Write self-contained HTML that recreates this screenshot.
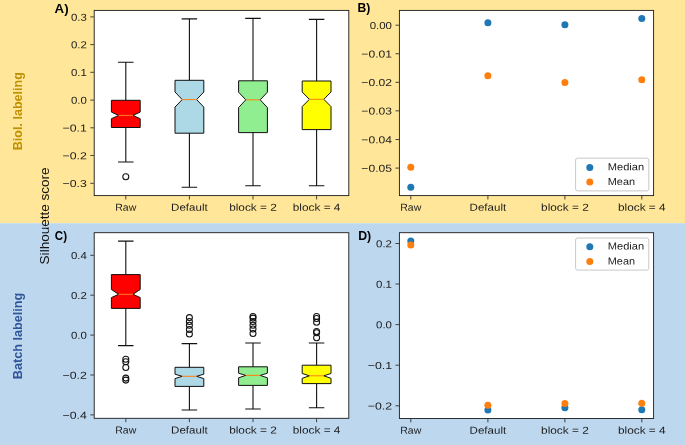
<!DOCTYPE html>
<html lang="en">
<head>
<meta charset="utf-8">
<title>Silhouette score</title>
<style>
html,body{margin:0;padding:0;background:#fff;}
body{width:685px;height:445px;overflow:hidden;font-family:"Liberation Sans",sans-serif;}
svg{display:block;will-change:transform;font-family:"Liberation Sans",sans-serif;}
</style>
</head>
<body>
<svg width="685" height="445" viewBox="0 0 685 445">
<rect x="0" y="0" width="685" height="223.2" fill="#FFE699"/>
<rect x="0" y="223.2" width="685" height="221.8" fill="#BDD7EE"/>
<rect x="94.20" y="10.40" width="254.60" height="185.20" fill="#fff" stroke="#1a1a1a" stroke-width="0.9"/>
<line x1="90.30" y1="16.90" x2="93.80" y2="16.90" stroke="#1a1a1a" stroke-width="0.8"/>
<text x="70.90" y="20.65" transform="rotate(0.04 78.8 20.6)" font-size="10.10" fill="#1c1c1c" textLength="15.90" lengthAdjust="spacingAndGlyphs">0.3</text>
<line x1="90.30" y1="44.60" x2="93.80" y2="44.60" stroke="#1a1a1a" stroke-width="0.8"/>
<text x="70.90" y="48.35" transform="rotate(0.04 78.8 48.4)" font-size="10.10" fill="#1c1c1c" textLength="15.90" lengthAdjust="spacingAndGlyphs">0.2</text>
<line x1="90.30" y1="72.30" x2="93.80" y2="72.30" stroke="#1a1a1a" stroke-width="0.8"/>
<text x="70.90" y="76.05" transform="rotate(0.04 78.8 76.0)" font-size="10.10" fill="#1c1c1c" textLength="15.90" lengthAdjust="spacingAndGlyphs">0.1</text>
<line x1="90.30" y1="100.10" x2="93.80" y2="100.10" stroke="#1a1a1a" stroke-width="0.8"/>
<text x="70.90" y="103.85" transform="rotate(0.04 78.8 103.8)" font-size="10.10" fill="#1c1c1c" textLength="15.90" lengthAdjust="spacingAndGlyphs">0.0</text>
<line x1="90.30" y1="127.80" x2="93.80" y2="127.80" stroke="#1a1a1a" stroke-width="0.8"/>
<text x="62.52" y="131.55" transform="rotate(0.04 74.7 131.6)" font-size="10.10" fill="#1c1c1c" textLength="24.28" lengthAdjust="spacingAndGlyphs">−0.1</text>
<line x1="90.30" y1="155.50" x2="93.80" y2="155.50" stroke="#1a1a1a" stroke-width="0.8"/>
<text x="62.52" y="159.25" transform="rotate(0.04 74.7 159.2)" font-size="10.10" fill="#1c1c1c" textLength="24.28" lengthAdjust="spacingAndGlyphs">−0.2</text>
<line x1="90.30" y1="183.30" x2="93.80" y2="183.30" stroke="#1a1a1a" stroke-width="0.8"/>
<text x="62.52" y="187.05" transform="rotate(0.04 74.7 187.1)" font-size="10.10" fill="#1c1c1c" textLength="24.28" lengthAdjust="spacingAndGlyphs">−0.3</text>
<line x1="125.80" y1="196.00" x2="125.80" y2="199.50" stroke="#1a1a1a" stroke-width="0.8"/>
<text x="115.28" y="210.80" transform="rotate(0.04 125.8 210.8)" font-size="10.10" fill="#1c1c1c" textLength="21.04" lengthAdjust="spacingAndGlyphs">Raw</text>
<line x1="189.40" y1="196.00" x2="189.40" y2="199.50" stroke="#1a1a1a" stroke-width="0.8"/>
<text x="171.13" y="210.80" transform="rotate(0.04 189.4 210.8)" font-size="10.10" fill="#1c1c1c" textLength="36.54" lengthAdjust="spacingAndGlyphs">Default</text>
<line x1="253.00" y1="196.00" x2="253.00" y2="199.50" stroke="#1a1a1a" stroke-width="0.8"/>
<text x="229.18" y="210.80" transform="rotate(0.04 253.0 210.8)" font-size="10.10" fill="#1c1c1c" textLength="47.63" lengthAdjust="spacingAndGlyphs">block = 2</text>
<line x1="316.60" y1="196.00" x2="316.60" y2="199.50" stroke="#1a1a1a" stroke-width="0.8"/>
<text x="292.78" y="210.80" transform="rotate(0.04 316.6 210.8)" font-size="10.10" fill="#1c1c1c" textLength="47.63" lengthAdjust="spacingAndGlyphs">block = 4</text>
<path d="M125.80 100.30V62.30M125.80 127.50V162.00M118.60 62.30H133.00M118.60 162.00H133.00" fill="none" stroke="#111" stroke-width="1.1" stroke-linecap="square"/>
<path d="M111.40 127.50L140.20 127.50L140.20 118.70L133.00 115.40L140.20 112.10L140.20 100.30L111.40 100.30L111.40 112.10L118.60 115.40L111.40 118.70Z" fill="#FF0000" stroke="#111" stroke-width="1" stroke-linejoin="miter"/>
<line x1="118.60" y1="115.40" x2="133.00" y2="115.40" stroke="#FF7F0E" stroke-width="1"/>
<circle cx="125.80" cy="176.80" r="3.0" fill="none" stroke="#111" stroke-width="1.05"/>
<path d="M189.40 80.30V18.90M189.40 133.20V187.30M182.20 18.90H196.60M182.20 187.30H196.60" fill="none" stroke="#111" stroke-width="1.1" stroke-linecap="square"/>
<path d="M175.00 133.20L203.80 133.20L203.80 107.10L196.60 99.60L203.80 92.00L203.80 80.30L175.00 80.30L175.00 92.00L182.20 99.60L175.00 107.10Z" fill="#ADD8E6" stroke="#111" stroke-width="1" stroke-linejoin="miter"/>
<line x1="182.20" y1="99.60" x2="196.60" y2="99.60" stroke="#FF7F0E" stroke-width="1"/>
<path d="M253.00 80.80V18.40M253.00 132.60V185.80M245.80 18.40H260.20M245.80 185.80H260.20" fill="none" stroke="#111" stroke-width="1.1" stroke-linecap="square"/>
<path d="M238.60 132.60L267.40 132.60L267.40 107.60L260.20 99.80L267.40 92.20L267.40 80.80L238.60 80.80L238.60 92.20L245.80 99.80L238.60 107.60Z" fill="#90EE90" stroke="#111" stroke-width="1" stroke-linejoin="miter"/>
<line x1="245.80" y1="99.80" x2="260.20" y2="99.80" stroke="#FF7F0E" stroke-width="1"/>
<path d="M316.60 81.00V19.40M316.60 129.60V185.80M309.40 19.40H323.80M309.40 185.80H323.80" fill="none" stroke="#111" stroke-width="1.1" stroke-linecap="square"/>
<path d="M302.20 129.60L331.00 129.60L331.00 106.60L323.80 99.30L331.00 92.00L331.00 81.00L302.20 81.00L302.20 92.00L309.40 99.30L302.20 106.60Z" fill="#FFFF00" stroke="#111" stroke-width="1" stroke-linejoin="miter"/>
<line x1="309.40" y1="99.30" x2="323.80" y2="99.30" stroke="#FF7F0E" stroke-width="1"/>
<rect x="399.40" y="10.40" width="254.20" height="185.20" fill="#fff" stroke="#1a1a1a" stroke-width="0.9"/>
<line x1="395.50" y1="25.20" x2="399.00" y2="25.20" stroke="#1a1a1a" stroke-width="0.8"/>
<text x="369.73" y="28.95" transform="rotate(0.04 380.9 28.9)" font-size="10.10" fill="#1c1c1c" textLength="22.27" lengthAdjust="spacingAndGlyphs">0.00</text>
<line x1="395.50" y1="53.75" x2="399.00" y2="53.75" stroke="#1a1a1a" stroke-width="0.8"/>
<text x="361.36" y="57.50" transform="rotate(0.04 376.7 57.5)" font-size="10.10" fill="#1c1c1c" textLength="30.64" lengthAdjust="spacingAndGlyphs">−0.01</text>
<line x1="395.50" y1="82.30" x2="399.00" y2="82.30" stroke="#1a1a1a" stroke-width="0.8"/>
<text x="361.36" y="86.05" transform="rotate(0.04 376.7 86.0)" font-size="10.10" fill="#1c1c1c" textLength="30.64" lengthAdjust="spacingAndGlyphs">−0.02</text>
<line x1="395.50" y1="110.85" x2="399.00" y2="110.85" stroke="#1a1a1a" stroke-width="0.8"/>
<text x="361.36" y="114.60" transform="rotate(0.04 376.7 114.6)" font-size="10.10" fill="#1c1c1c" textLength="30.64" lengthAdjust="spacingAndGlyphs">−0.03</text>
<line x1="395.50" y1="139.50" x2="399.00" y2="139.50" stroke="#1a1a1a" stroke-width="0.8"/>
<text x="361.36" y="143.25" transform="rotate(0.04 376.7 143.2)" font-size="10.10" fill="#1c1c1c" textLength="30.64" lengthAdjust="spacingAndGlyphs">−0.04</text>
<line x1="395.50" y1="168.10" x2="399.00" y2="168.10" stroke="#1a1a1a" stroke-width="0.8"/>
<text x="361.36" y="171.85" transform="rotate(0.04 376.7 171.8)" font-size="10.10" fill="#1c1c1c" textLength="30.64" lengthAdjust="spacingAndGlyphs">−0.05</text>
<line x1="410.80" y1="196.00" x2="410.80" y2="199.50" stroke="#1a1a1a" stroke-width="0.8"/>
<text x="400.28" y="210.80" transform="rotate(0.04 410.8 210.8)" font-size="10.10" fill="#1c1c1c" textLength="21.04" lengthAdjust="spacingAndGlyphs">Raw</text>
<line x1="487.90" y1="196.00" x2="487.90" y2="199.50" stroke="#1a1a1a" stroke-width="0.8"/>
<text x="469.63" y="210.80" transform="rotate(0.04 487.9 210.8)" font-size="10.10" fill="#1c1c1c" textLength="36.54" lengthAdjust="spacingAndGlyphs">Default</text>
<line x1="564.90" y1="196.00" x2="564.90" y2="199.50" stroke="#1a1a1a" stroke-width="0.8"/>
<text x="541.08" y="210.80" transform="rotate(0.04 564.9 210.8)" font-size="10.10" fill="#1c1c1c" textLength="47.63" lengthAdjust="spacingAndGlyphs">block = 2</text>
<line x1="641.80" y1="196.00" x2="641.80" y2="199.50" stroke="#1a1a1a" stroke-width="0.8"/>
<text x="617.98" y="210.80" transform="rotate(0.04 641.8 210.8)" font-size="10.10" fill="#1c1c1c" textLength="47.63" lengthAdjust="spacingAndGlyphs">block = 4</text>
<circle cx="410.80" cy="187.30" r="3.5" fill="#1F77B4"/>
<circle cx="410.80" cy="167.20" r="3.5" fill="#FF7F0E"/>
<circle cx="487.90" cy="22.70" r="3.5" fill="#1F77B4"/>
<circle cx="487.90" cy="75.80" r="3.5" fill="#FF7F0E"/>
<circle cx="564.90" cy="24.70" r="3.5" fill="#1F77B4"/>
<circle cx="564.90" cy="82.40" r="3.5" fill="#FF7F0E"/>
<circle cx="641.80" cy="18.60" r="3.5" fill="#1F77B4"/>
<circle cx="641.80" cy="79.80" r="3.5" fill="#FF7F0E"/>
<rect x="575.60" y="158.20" width="73.20" height="32.70" rx="2" ry="2" fill="#fff" fill-opacity="0.8" stroke="#c8c8c8" stroke-width="1"/>
<circle cx="589.80" cy="167.40" r="3.5" fill="#1F77B4"/>
<circle cx="589.80" cy="182.00" r="3.5" fill="#FF7F0E"/>
<text x="607.80" y="170.30" transform="rotate(0.04 626.0 170.3)" font-size="10.10" fill="#1c1c1c" textLength="36.37" lengthAdjust="spacingAndGlyphs">Median</text>
<text x="607.80" y="184.90" transform="rotate(0.04 621.4 184.9)" font-size="10.10" fill="#1c1c1c" textLength="27.25" lengthAdjust="spacingAndGlyphs">Mean</text>
<rect x="94.20" y="232.70" width="254.60" height="185.60" fill="#fff" stroke="#1a1a1a" stroke-width="0.9"/>
<line x1="90.30" y1="255.30" x2="93.80" y2="255.30" stroke="#1a1a1a" stroke-width="0.8"/>
<text x="70.90" y="259.05" transform="rotate(0.04 78.8 259.1)" font-size="10.10" fill="#1c1c1c" textLength="15.90" lengthAdjust="spacingAndGlyphs">0.4</text>
<line x1="90.30" y1="295.20" x2="93.80" y2="295.20" stroke="#1a1a1a" stroke-width="0.8"/>
<text x="70.90" y="298.95" transform="rotate(0.04 78.8 298.9)" font-size="10.10" fill="#1c1c1c" textLength="15.90" lengthAdjust="spacingAndGlyphs">0.2</text>
<line x1="90.30" y1="335.10" x2="93.80" y2="335.10" stroke="#1a1a1a" stroke-width="0.8"/>
<text x="70.90" y="338.85" transform="rotate(0.04 78.8 338.9)" font-size="10.10" fill="#1c1c1c" textLength="15.90" lengthAdjust="spacingAndGlyphs">0.0</text>
<line x1="90.30" y1="375.00" x2="93.80" y2="375.00" stroke="#1a1a1a" stroke-width="0.8"/>
<text x="62.52" y="378.75" transform="rotate(0.04 74.7 378.8)" font-size="10.10" fill="#1c1c1c" textLength="24.28" lengthAdjust="spacingAndGlyphs">−0.2</text>
<line x1="90.30" y1="414.90" x2="93.80" y2="414.90" stroke="#1a1a1a" stroke-width="0.8"/>
<text x="62.52" y="418.65" transform="rotate(0.04 74.7 418.6)" font-size="10.10" fill="#1c1c1c" textLength="24.28" lengthAdjust="spacingAndGlyphs">−0.4</text>
<line x1="125.80" y1="418.70" x2="125.80" y2="422.20" stroke="#1a1a1a" stroke-width="0.8"/>
<text x="115.28" y="433.50" transform="rotate(0.04 125.8 433.5)" font-size="10.10" fill="#1c1c1c" textLength="21.04" lengthAdjust="spacingAndGlyphs">Raw</text>
<line x1="189.40" y1="418.70" x2="189.40" y2="422.20" stroke="#1a1a1a" stroke-width="0.8"/>
<text x="171.13" y="433.50" transform="rotate(0.04 189.4 433.5)" font-size="10.10" fill="#1c1c1c" textLength="36.54" lengthAdjust="spacingAndGlyphs">Default</text>
<line x1="253.00" y1="418.70" x2="253.00" y2="422.20" stroke="#1a1a1a" stroke-width="0.8"/>
<text x="229.18" y="433.50" transform="rotate(0.04 253.0 433.5)" font-size="10.10" fill="#1c1c1c" textLength="47.63" lengthAdjust="spacingAndGlyphs">block = 2</text>
<line x1="316.60" y1="418.70" x2="316.60" y2="422.20" stroke="#1a1a1a" stroke-width="0.8"/>
<text x="292.78" y="433.50" transform="rotate(0.04 316.6 433.5)" font-size="10.10" fill="#1c1c1c" textLength="47.63" lengthAdjust="spacingAndGlyphs">block = 4</text>
<path d="M125.80 274.60V241.10M125.80 308.40V345.60M118.60 241.10H133.00M118.60 345.60H133.00" fill="none" stroke="#111" stroke-width="1.1" stroke-linecap="square"/>
<path d="M111.40 308.40L140.20 308.40L140.20 297.60L133.00 294.30L140.20 289.50L140.20 274.60L111.40 274.60L111.40 289.50L118.60 294.30L111.40 297.60Z" fill="#FF0000" stroke="#111" stroke-width="1" stroke-linejoin="miter"/>
<line x1="118.60" y1="294.30" x2="133.00" y2="294.30" stroke="#FF7F0E" stroke-width="1"/>
<circle cx="125.80" cy="359.20" r="3.0" fill="none" stroke="#111" stroke-width="1.05"/>
<circle cx="125.80" cy="361.70" r="3.0" fill="none" stroke="#111" stroke-width="1.05"/>
<circle cx="125.80" cy="367.50" r="3.0" fill="none" stroke="#111" stroke-width="1.05"/>
<circle cx="125.80" cy="378.10" r="3.0" fill="none" stroke="#111" stroke-width="1.05"/>
<circle cx="125.80" cy="380.10" r="3.0" fill="none" stroke="#111" stroke-width="1.05"/>
<path d="M189.40 367.30V343.60M189.40 386.40V410.00M182.20 343.60H196.60M182.20 410.00H196.60" fill="none" stroke="#111" stroke-width="1.1" stroke-linecap="square"/>
<path d="M175.00 386.40L203.80 386.40L203.80 378.60L196.60 376.30L203.80 374.20L203.80 367.30L175.00 367.30L175.00 374.20L182.20 376.30L175.00 378.60Z" fill="#ADD8E6" stroke="#111" stroke-width="1" stroke-linejoin="miter"/>
<line x1="182.20" y1="376.30" x2="196.60" y2="376.30" stroke="#FF7F0E" stroke-width="1"/>
<circle cx="189.40" cy="317.60" r="3.0" fill="none" stroke="#111" stroke-width="1.05"/>
<circle cx="189.40" cy="321.40" r="3.0" fill="none" stroke="#111" stroke-width="1.05"/>
<circle cx="189.40" cy="325.20" r="3.0" fill="none" stroke="#111" stroke-width="1.05"/>
<circle cx="189.40" cy="329.50" r="3.0" fill="none" stroke="#111" stroke-width="1.05"/>
<circle cx="189.40" cy="334.00" r="3.0" fill="none" stroke="#111" stroke-width="1.05"/>
<path d="M253.00 366.80V343.00M253.00 385.40V409.00M245.80 343.00H260.20M245.80 409.00H260.20" fill="none" stroke="#111" stroke-width="1.1" stroke-linecap="square"/>
<path d="M238.60 385.40L267.40 385.40L267.40 377.80L260.20 375.40L267.40 373.20L267.40 366.80L238.60 366.80L238.60 373.20L245.80 375.40L238.60 377.80Z" fill="#90EE90" stroke="#111" stroke-width="1" stroke-linejoin="miter"/>
<line x1="245.80" y1="375.40" x2="260.20" y2="375.40" stroke="#FF7F0E" stroke-width="1"/>
<circle cx="253.00" cy="316.40" r="3.0" fill="none" stroke="#111" stroke-width="1.05"/>
<circle cx="253.00" cy="318.10" r="3.0" fill="none" stroke="#111" stroke-width="1.05"/>
<circle cx="253.00" cy="321.40" r="3.0" fill="none" stroke="#111" stroke-width="1.05"/>
<circle cx="253.00" cy="325.20" r="3.0" fill="none" stroke="#111" stroke-width="1.05"/>
<circle cx="253.00" cy="329.00" r="3.0" fill="none" stroke="#111" stroke-width="1.05"/>
<circle cx="253.00" cy="333.50" r="3.0" fill="none" stroke="#111" stroke-width="1.05"/>
<path d="M316.60 365.20V343.00M316.60 383.60V407.80M309.40 343.00H323.80M309.40 407.80H323.80" fill="none" stroke="#111" stroke-width="1.1" stroke-linecap="square"/>
<path d="M302.20 383.60L331.00 383.60L331.00 378.30L323.80 375.80L331.00 373.50L331.00 365.20L302.20 365.20L302.20 373.50L309.40 375.80L302.20 378.30Z" fill="#FFFF00" stroke="#111" stroke-width="1" stroke-linejoin="miter"/>
<line x1="309.40" y1="375.80" x2="323.80" y2="375.80" stroke="#FF7F0E" stroke-width="1"/>
<circle cx="316.60" cy="316.40" r="3.0" fill="none" stroke="#111" stroke-width="1.05"/>
<circle cx="316.60" cy="318.40" r="3.0" fill="none" stroke="#111" stroke-width="1.05"/>
<circle cx="316.60" cy="322.20" r="3.0" fill="none" stroke="#111" stroke-width="1.05"/>
<circle cx="316.60" cy="331.50" r="3.0" fill="none" stroke="#111" stroke-width="1.05"/>
<circle cx="316.60" cy="332.70" r="3.0" fill="none" stroke="#111" stroke-width="1.05"/>
<circle cx="316.60" cy="337.80" r="3.0" fill="none" stroke="#111" stroke-width="1.05"/>
<rect x="399.40" y="232.70" width="254.20" height="185.80" fill="#fff" stroke="#1a1a1a" stroke-width="0.9"/>
<line x1="395.50" y1="243.50" x2="399.00" y2="243.50" stroke="#1a1a1a" stroke-width="0.8"/>
<text x="376.10" y="247.25" transform="rotate(0.04 384.0 247.2)" font-size="10.10" fill="#1c1c1c" textLength="15.90" lengthAdjust="spacingAndGlyphs">0.2</text>
<line x1="395.50" y1="284.00" x2="399.00" y2="284.00" stroke="#1a1a1a" stroke-width="0.8"/>
<text x="376.10" y="287.75" transform="rotate(0.04 384.0 287.8)" font-size="10.10" fill="#1c1c1c" textLength="15.90" lengthAdjust="spacingAndGlyphs">0.1</text>
<line x1="395.50" y1="324.60" x2="399.00" y2="324.60" stroke="#1a1a1a" stroke-width="0.8"/>
<text x="376.10" y="328.35" transform="rotate(0.04 384.0 328.4)" font-size="10.10" fill="#1c1c1c" textLength="15.90" lengthAdjust="spacingAndGlyphs">0.0</text>
<line x1="395.50" y1="365.20" x2="399.00" y2="365.20" stroke="#1a1a1a" stroke-width="0.8"/>
<text x="367.72" y="368.95" transform="rotate(0.04 379.9 368.9)" font-size="10.10" fill="#1c1c1c" textLength="24.28" lengthAdjust="spacingAndGlyphs">−0.1</text>
<line x1="395.50" y1="405.80" x2="399.00" y2="405.80" stroke="#1a1a1a" stroke-width="0.8"/>
<text x="367.72" y="409.55" transform="rotate(0.04 379.9 409.6)" font-size="10.10" fill="#1c1c1c" textLength="24.28" lengthAdjust="spacingAndGlyphs">−0.2</text>
<line x1="410.80" y1="418.90" x2="410.80" y2="422.40" stroke="#1a1a1a" stroke-width="0.8"/>
<text x="400.28" y="433.70" transform="rotate(0.04 410.8 433.7)" font-size="10.10" fill="#1c1c1c" textLength="21.04" lengthAdjust="spacingAndGlyphs">Raw</text>
<line x1="487.90" y1="418.90" x2="487.90" y2="422.40" stroke="#1a1a1a" stroke-width="0.8"/>
<text x="469.63" y="433.70" transform="rotate(0.04 487.9 433.7)" font-size="10.10" fill="#1c1c1c" textLength="36.54" lengthAdjust="spacingAndGlyphs">Default</text>
<line x1="564.90" y1="418.90" x2="564.90" y2="422.40" stroke="#1a1a1a" stroke-width="0.8"/>
<text x="541.08" y="433.70" transform="rotate(0.04 564.9 433.7)" font-size="10.10" fill="#1c1c1c" textLength="47.63" lengthAdjust="spacingAndGlyphs">block = 2</text>
<line x1="641.80" y1="418.90" x2="641.80" y2="422.40" stroke="#1a1a1a" stroke-width="0.8"/>
<text x="617.98" y="433.70" transform="rotate(0.04 641.8 433.7)" font-size="10.10" fill="#1c1c1c" textLength="47.63" lengthAdjust="spacingAndGlyphs">block = 4</text>
<circle cx="410.80" cy="241.00" r="3.5" fill="#1F77B4"/>
<circle cx="410.80" cy="244.90" r="3.5" fill="#FF7F0E"/>
<circle cx="487.90" cy="410.10" r="3.5" fill="#1F77B4"/>
<circle cx="487.90" cy="405.30" r="3.5" fill="#FF7F0E"/>
<circle cx="564.90" cy="407.80" r="3.5" fill="#1F77B4"/>
<circle cx="564.90" cy="403.50" r="3.5" fill="#FF7F0E"/>
<circle cx="641.80" cy="409.80" r="3.5" fill="#1F77B4"/>
<circle cx="641.80" cy="403.30" r="3.5" fill="#FF7F0E"/>
<rect x="575.60" y="238.00" width="73.20" height="32.10" rx="2" ry="2" fill="#fff" fill-opacity="0.8" stroke="#c8c8c8" stroke-width="1"/>
<circle cx="589.80" cy="246.70" r="3.5" fill="#1F77B4"/>
<circle cx="589.80" cy="261.50" r="3.5" fill="#FF7F0E"/>
<text x="607.80" y="249.60" transform="rotate(0.04 626.0 249.6)" font-size="10.10" fill="#1c1c1c" textLength="36.37" lengthAdjust="spacingAndGlyphs">Median</text>
<text x="607.80" y="264.40" transform="rotate(0.04 621.4 264.4)" font-size="10.10" fill="#1c1c1c" textLength="27.25" lengthAdjust="spacingAndGlyphs">Mean</text>
<text x="54.60" y="12.50" font-size="12" font-weight="bold" fill="#000" textLength="14.00" lengthAdjust="spacingAndGlyphs">A)</text>
<text x="357.40" y="12.10" font-size="12" font-weight="bold" fill="#000" textLength="12.80" lengthAdjust="spacingAndGlyphs">B)</text>
<text x="54.80" y="239.90" font-size="12" font-weight="bold" fill="#000" textLength="12.20" lengthAdjust="spacingAndGlyphs">C)</text>
<text x="358.20" y="239.90" font-size="12" font-weight="bold" fill="#000" textLength="13.00" lengthAdjust="spacingAndGlyphs">D)</text>
<text transform="translate(21.70 150.20) rotate(-90)" font-size="13.60" font-weight="bold" fill="#BF9000" textLength="78.00" lengthAdjust="spacingAndGlyphs">Biol. labeling</text>
<text transform="translate(22.00 379.20) rotate(-90)" font-size="13.50" font-weight="bold" fill="#2F5597" textLength="86.40" lengthAdjust="spacingAndGlyphs">Batch labeling</text>
<text transform="translate(49.20 264.40) rotate(-90)" font-size="13.40" fill="#111" textLength="97.00" lengthAdjust="spacingAndGlyphs">Silhouette score</text>
</svg>
</body>
</html>
